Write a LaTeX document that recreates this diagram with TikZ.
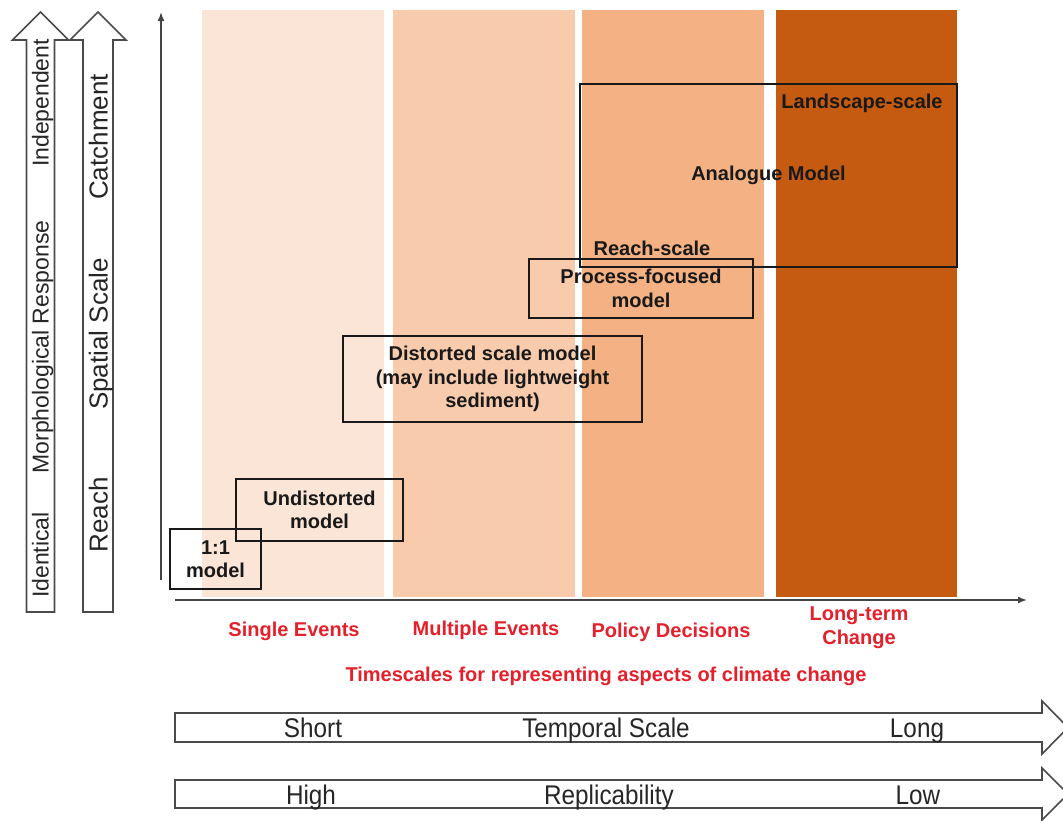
\documentclass[tikz,border=0pt]{standalone}
\usepackage{fontspec}
\setmainfont{Liberation Sans}
\usetikzlibrary{arrows.meta}
\definecolor{bandA}{HTML}{FBE5D6}
\definecolor{bandB}{HTML}{F8CBAD}
\definecolor{bandC}{HTML}{F4B183}
\definecolor{bandD}{HTML}{C55A11}
\definecolor{redlab}{HTML}{E5202A}
\definecolor{axisgray}{HTML}{444444}
\definecolor{outgray}{HTML}{4A4A4A}
\tikzset{
  blockarrow/.style={draw=outgray, line width=1.6pt, fill=white, line join=miter},
  axisline/.style={draw=axisgray, line width=1.5pt, -{Latex[length=9pt,width=7pt]}},
  modelbox/.style={draw=black!90, line width=1.9pt, inner sep=0pt, align=center,
     font=\fontsize{20}{23.5}\selectfont\bfseries, text=black!90},
  boxlabel/.style={inner sep=0pt, align=center, font=\fontsize{20}{24}\selectfont\bfseries, text=black!90},
  redlabel/.style={inner sep=0pt, align=center, font=\fontsize{20}{24}\selectfont\bfseries, text=redlab},
  vlabA/.style={inner sep=0pt, rotate=90, anchor=base, font=\fontsize{23}{26}\selectfont, text=black!85},
  vlabB/.style={inner sep=0pt, rotate=90, anchor=base, font=\fontsize{26}{28}\selectfont, text=black!85},
  hlab/.style={inner sep=0pt, anchor=base, font=\fontsize{27}{30}\selectfont, text=black!85},
}
\newcommand{\narrow}[1]{\scalebox{0.9}[1]{#1}}
\begin{document}
\begin{tikzpicture}[x=1pt,y=-1pt]
\useasboundingbox (0,0) rectangle (1063,820);
\fill[white] (0,0) rectangle (1063,820);
% bands
\fill[bandA] (202,10) rectangle (384,597);
\fill[bandB] (393,10) rectangle (575,597);
\fill[bandC] (582,10) rectangle (764,597);
\fill[bandD] (776,10) rectangle (957,597);
% vertical block arrows
\draw[blockarrow] (26.5,612) -- (26.5,40) -- (12.5,40) -- (40.5,12) -- (68.5,40) -- (54.5,40) -- (54.5,612) -- cycle;
\draw[blockarrow] (83,612) -- (83,40) -- (70,40) -- (98,12) -- (126,40) -- (113,40) -- (113,612) -- cycle;
\node[vlabA] (ident) at (48.5,555) {Identical};
\node[vlabA] (morph) at (48.5,347) {Morphological Response};
\node[vlabA] (indep) at (48.5,103) {Independent};
\node[vlabB] (reach) at (107.5,515) {Reach};
\node[vlabB] (spat) at (107.5,334) {Spatial Scale};
\node[vlabB] (catch) at (107.5,137) {Catchment};
% axes
\coordinate (vbot) at (161,580);
\coordinate (vtop) at (161,12);
\coordinate (hleft) at (175,600);
\coordinate (hright) at (1027,600);
\draw[axisline] (vbot) -- (vtop);
\draw[axisline] (hleft) -- (hright);
% model boxes
\node[modelbox, minimum width=224pt, minimum height=59pt] (proc) at (641,288.5) {Process-focused\\model};
\node[modelbox, minimum width=377pt, minimum height=183pt] (analog) at (768.5,175.5) {Analogue Model};
\node[modelbox, minimum width=299pt, minimum height=86pt] (dist) at (492.5,379) {Distorted scale model\\(may include lightweight\\sediment)};
\node[modelbox, minimum width=167pt, minimum height=62pt] (undist) at (319.5,510) {Undistorted\\model};
\node[modelbox, minimum width=91pt, minimum height=60pt] (one) at (215.5,559) {1:1\\model};
\node[boxlabel] (land) at (862,103) {Landscape-scale};
\node[boxlabel] (reachsc) at (652,248) {Reach-scale};
% red labels
\node[redlabel] (single) at (294,631) {Single Events};
\node[redlabel] (multi) at (486,630) {Multiple Events};
\node[redlabel] (policy) at (671,632) {Policy Decisions};
\node[redlabel] (longterm) at (859,628) {Long-term\\Change};
\node[redlabel] (times) at (606,676) {Timescales for representing aspects of climate change};
% horizontal block arrows
\draw[blockarrow] (175,713) -- (1042,713) -- (1042,701) -- (1068,727.5) -- (1042,754) -- (1042,742) -- (175,742) -- cycle;
\draw[blockarrow] (175,780) -- (1042,780) -- (1042,768) -- (1068,794) -- (1042,820) -- (1042,808) -- (175,808) -- cycle;
\node[hlab] (short) at (313,737) {\narrow{Short}};
\node[hlab] (temp) at (606,737) {\narrow{Temporal Scale}};
\node[hlab] (long) at (917,737) {\narrow{Long}};
\node[hlab] (high) at (311,804) {\narrow{High}};
\node[hlab] (repl) at (609,804) {\narrow{Replicability}};
\node[hlab] (low) at (918,804) {\narrow{Low}};
\end{tikzpicture}
\end{document}
